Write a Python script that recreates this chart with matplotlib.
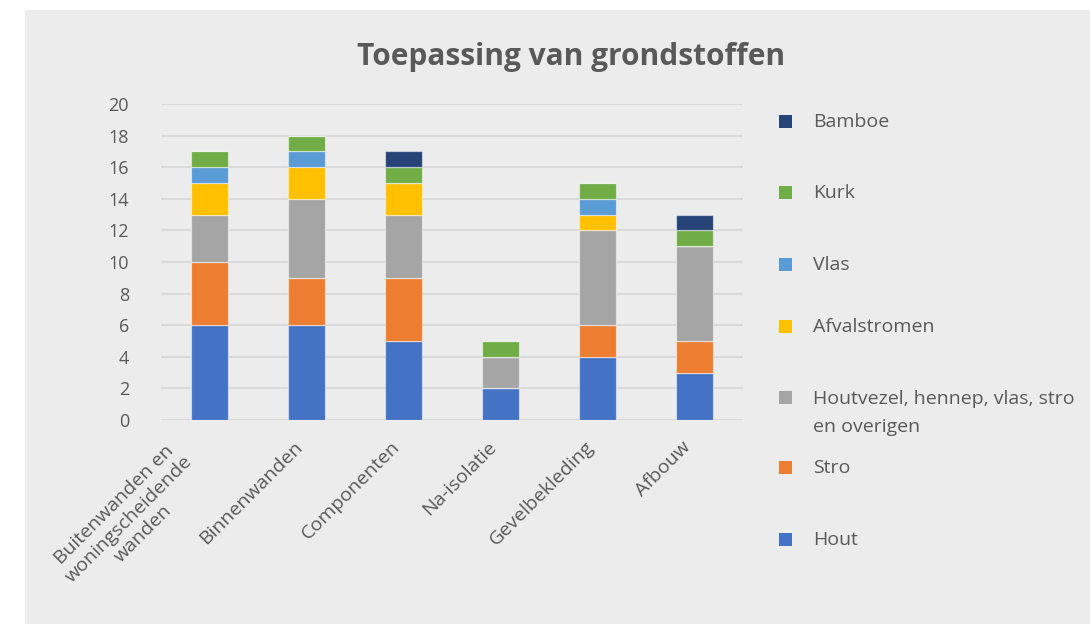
import matplotlib
matplotlib.use("Agg")
import matplotlib.pyplot as plt
from matplotlib.patches import Rectangle
import numpy as np

plt.rcParams['font.family'] = ['Open Sans', 'DejaVu Sans']

categories = ["Buitenwanden en\nwoningscheidende\nwanden", "Binnenwanden", "Componenten",
              "Na-isolatie", "Gevelbekleding", "Afbouw"]
series_names = ["Hout", "Stro", "Houtvezel, hennep, vlas, stro\nen overigen",
                "Afvalstromen", "Vlas", "Kurk", "Bamboe"]
hout = [6, 6, 5, 2, 4, 3]
stro = [4, 3, 4, 0, 2, 2]
houtvezel = [3, 5, 4, 2, 6, 6]
afvalstromen = [2, 2, 2, 0, 1, 0]
vlas = [1, 1, 0, 0, 1, 0]
kurk = [1, 1, 1, 1, 1, 1]
bamboe = [0, 0, 1, 0, 0, 1]
series_values = [hout, stro, houtvezel, afvalstromen, vlas, kurk, bamboe]
colors = ["#4472C4", "#ED7D31", "#A5A5A5", "#FFC000", "#5B9BD5", "#70AD47", "#264478"]
yticks = [0, 2, 4, 6, 8, 10, 12, 14, 16, 18, 20]

W, H = 1090, 624
fig = plt.figure(figsize=(W / 100, H / 100), dpi=100)
fig.patch.set_facecolor("white")
fig.patches.append(Rectangle((25 / W, 0), 1, 1 - 10 / H, transform=fig.transFigure,
                             facecolor="#ececec", edgecolor="none", zorder=-10))

ax = fig.add_axes([161 / W, 1 - 420 / H, (743 - 161) / W, (420 - 104) / H])
ax.set_facecolor("none")
txt = "#595959"

x = np.arange(len(categories))
bottom = np.zeros(len(categories))
for name, vals, c in zip(series_names, series_values, colors):
    v = np.array(vals, dtype=float)
    ax.bar(x, v, 0.39, bottom=bottom, color=c, edgecolor=(1, 1, 1, 0.5),
           linewidth=0.9, zorder=3, label=name)
    bottom += v

ax.set_xlim(-0.5, len(categories) - 0.5)
ax.set_ylim(0, 20)
ax.set_yticks(yticks)
ax.set_yticklabels([str(t) for t in yticks], fontsize=13, color=txt)
ax.grid(axis="y", color="#d9d9d9", linewidth=1.3, zorder=0)
for s in ax.spines.values():
    s.set_visible(False)
ax.tick_params(axis="both", length=0)
ax.tick_params(axis="y", pad=23)
ax.tick_params(axis="x", pad=13)
ax.set_xticks(x)
ax.set_xticklabels(categories, rotation=45, ha="right", fontsize=14, color=txt,
                   multialignment="center", linespacing=1.15)

fig.text(571 / W, 1 - 57 / H, "Toepassing van grondstoffen", ha="center", va="center",
         fontsize=21.5, fontweight="bold", color=txt)

# legend (reverse order), positions in pixels
legend_y = [540, 468, 398, 327, 265, 193, 122]
for name, c, ly in zip(series_names, colors, legend_y):
    fig.patches.append(Rectangle((779 / W, 1 - (ly + 6) / H), 13 / W, 13 / H,
                                 transform=fig.transFigure, facecolor=c, edgecolor="none"))
    if "\n" in name:
        fig.text(813 / W, 1 - (ly - 8) / H, name, ha="left", va="top",
                 fontsize=14, color=txt, linespacing=1.72)
    else:
        fig.text(813 / W, 1 - ly / H, name, ha="left", va="center",
                 fontsize=14, color=txt)

fig.savefig("out.png", dpi=100, facecolor=fig.get_facecolor())
